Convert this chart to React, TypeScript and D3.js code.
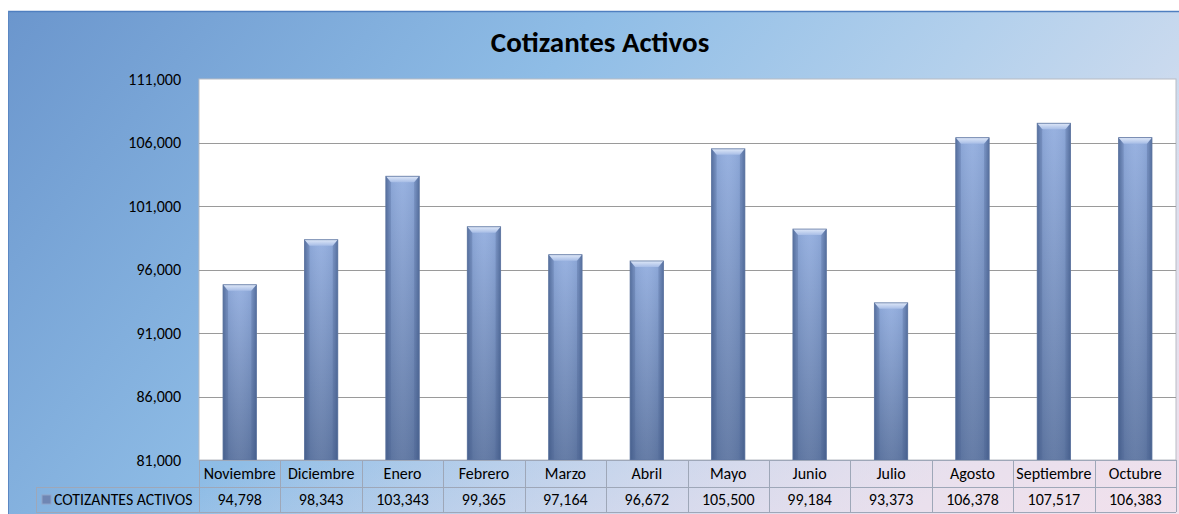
import React from "react";
import * as d3 from "d3";

const categories = ["Noviembre", "Diciembre", "Enero", "Febrero", "Marzo", "Abril", "Mayo", "Junio", "Julio", "Agosto", "Septiembre", "Octubre"];
const values = [94798, 98343, 103343, 99365, 97164, 96672, 105500, 99184, 93373, 106378, 107517, 106383];
const yTicks = [81000, 86000, 91000, 96000, 101000, 106000, 111000];
const seriesName = "COTIZANTES ACTIVOS";
const title = "Cotizantes Activos";

const W = 1179, H = 514;
const FONT = "Carlito, Calibri, Lato, 'Open Sans', sans-serif";

export default function App() {
  const plotL = 199, plotR = 1176, plotT = 79, plotB = 460;
  const y = d3.scaleLinear().domain([81000, 111000]).range([plotB, plotT]);
  const x = d3.scaleBand().domain(categories).range([plotL, plotR]).paddingInner(0).paddingOuter(0);
  const bw = x.bandwidth() * 0.41;
  const fmt = d3.format(",");
  const row1T = plotB, row1B = 487, row2B = 512;
  const legendL = 36;

  return (
    <svg width={W} height={H} style={{ position: "absolute", left: 0, top: 0, fontFamily: FONT }}>
      <defs>
        <linearGradient id="bg" x1="0" y1="0" x2="1" y2="0.35">
          <stop offset="0" stopColor="#6b96cd" />
          <stop offset="0.45" stopColor="#8fbde6" />
          <stop offset="0.75" stopColor="#b3d0ec" />
          <stop offset="1" stopColor="#d4deef" />
        </linearGradient>
        <linearGradient id="bgPink" x1="0" y1="0" x2="1" y2="1">
          <stop offset="0.55" stopColor="#f5e1ec" stopOpacity="0" />
          <stop offset="1" stopColor="#f5e1ec" stopOpacity="0.9" />
        </linearGradient>
        <linearGradient id="barV" x1="0" y1="0" x2="0" y2="1">
          <stop offset="0" stopColor="#93aedf" />
          <stop offset="1" stopColor="#5e76a2" />
        </linearGradient>
        <linearGradient id="barH" x1="0" y1="0" x2="1" y2="0">
          <stop offset="0" stopColor="#2e4a78" stopOpacity="0.55" />
          <stop offset="0.12" stopColor="#2e4a78" stopOpacity="0.1" />
          <stop offset="0.5" stopColor="#ffffff" stopOpacity="0.05" />
          <stop offset="0.88" stopColor="#2e4a78" stopOpacity="0.1" />
          <stop offset="1" stopColor="#2e4a78" stopOpacity="0.55" />
        </linearGradient>
        <linearGradient id="bevel" x1="0" y1="0" x2="0" y2="1">
          <stop offset="0" stopColor="#dfe8f8" />
          <stop offset="1" stopColor="#a7bde6" />
        </linearGradient>
      </defs>
      <rect x={8} y={11} width={W - 8} height={H - 11} fill="url(#bg)" />
      <rect x={8} y={11} width={W - 8} height={H - 11} fill="url(#bgPink)" />
      <line x1={8} x2={W} y1={11.5} y2={11.5} stroke="#4f7fc0" strokeWidth={1.5} />
      <line x1={8.5} x2={8.5} y1={11} y2={H} stroke="#5b87c3" strokeWidth={1} />

      <text x={600} y={52} textAnchor="middle" fontSize={29} fontWeight="bold" fill="#000">{title}</text>

      <rect x={plotL} y={plotT} width={plotR - plotL} height={plotB - plotT} fill="#fff" stroke="#b8bcc4" strokeWidth={1} />
      {yTicks.map((t) => (
        <g key={t}>
          {t !== 81000 && t !== 111000 && (
            <line x1={plotL} x2={plotR} y1={Math.round(y(t)) + 0.5} y2={Math.round(y(t)) + 0.5} stroke="#9a9a9a" strokeWidth={1} />
          )}
          <text x={181} y={y(t)} dy="0.35em" textAnchor="end" fontSize={16} fill="#000">{fmt(t)}</text>
        </g>
      ))}

      {categories.map((c, i) => {
        const cx = x(c)! + x.bandwidth() / 2;
        const bx = cx - bw / 2;
        const by = y(values[i]);
        const bh = plotB - by;
        const bv = 6;
        return (
          <g key={c}>
            <rect x={bx} y={by} width={bw} height={bh} fill="url(#barV)" />
            <rect x={bx} y={by} width={bw} height={bh} fill="url(#barH)" />
            <polygon points={`${bx},${by} ${bx + bw},${by} ${bx + bw - 5},${by + bv} ${bx + 5},${by + bv}`} fill="url(#bevel)" />
            <polygon points={`${bx},${by} ${bx + 5},${by + bv} ${bx + 5},${plotB} ${bx},${plotB}`} fill="#4d6591" opacity={0.35} />
            <polygon points={`${bx + bw},${by} ${bx + bw - 5},${by + bv} ${bx + bw - 5},${plotB} ${bx + bw},${plotB}`} fill="#4d6591" opacity={0.35} />
            <rect x={bx} y={by} width={bw} height={bh} fill="none" stroke="#5f76a0" strokeWidth={0.8} />
          </g>
        );
      })}

      {/* data table */}
      <g stroke="#9ea7b8" strokeWidth={1} fill="none">
        <line x1={plotL} x2={plotR} y1={row1T + 0.5} y2={row1T + 0.5} />
        <line x1={legendL} x2={plotR} y1={row1B + 0.5} y2={row1B + 0.5} />
        <line x1={legendL} x2={plotR} y1={row2B + 0.5} y2={row2B + 0.5} />
        <line x1={legendL + 0.5} x2={legendL + 0.5} y1={row1B} y2={row2B} />
        {categories.map((c) => (
          <line key={c} x1={Math.round(x(c)!) + 0.5} x2={Math.round(x(c)!) + 0.5} y1={row1T} y2={row2B} />
        ))}
        <line x1={plotR + 0.5} x2={plotR + 0.5} y1={row1T} y2={row2B} />
      </g>
      {categories.map((c, i) => {
        const cx = x(c)! + x.bandwidth() / 2;
        return (
          <g key={c}>
            <text x={cx} y={(row1T + row1B) / 2} dy="0.35em" textAnchor="middle" fontSize={16} fill="#000">{c}</text>
            <text x={cx} y={(row1B + row2B) / 2} dy="0.35em" textAnchor="middle" fontSize={16} fill="#000">{fmt(values[i])}</text>
          </g>
        );
      })}
      <rect x={42} y={495} width={9} height={9} fill="#6f86b3" stroke="#8fa3c8" strokeWidth={1} />
      <text x={54} y={(row1B + row2B) / 2} dy="0.35em" fontSize={15.8} fill="#000">{seriesName}</text>
    </svg>
  );
}
